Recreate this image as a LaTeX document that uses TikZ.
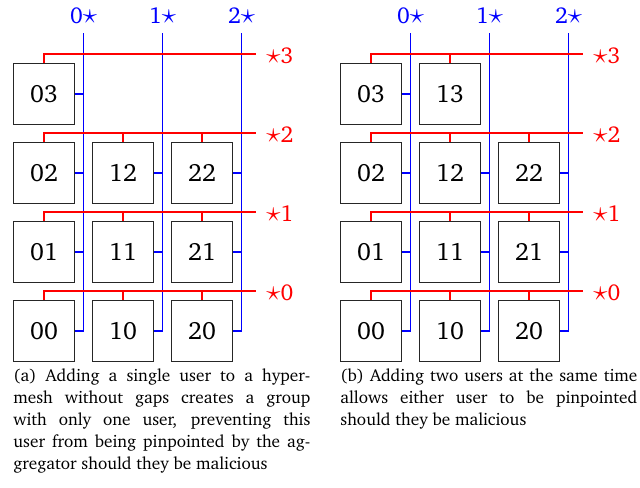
\documentclass[tikz,border=0pt]{standalone}
\usepackage[T1]{fontenc}
\usepackage{charter}
\usetikzlibrary{positioning}

\newcommand{\meshstar}{{\fontsize{14.5pt}{15pt}\selectfont$\star$}}

\begin{document}
\begin{tikzpicture}[
    x=0.5pt, y=-0.5pt,
    font=\fontsize{12.5pt}{14pt}\selectfont,
    user/.style={
        rectangle,
        draw=black!85,
        line width=0.55pt,
        minimum width=30.5pt,
        minimum height=30.5pt,
        inner sep=0pt
    },
    colLine/.style={
        color=blue,
        line width=0.6pt
    },
    rowLine/.style={
        color=red,
        line width=0.55pt
    },
    colLabel/.style={
        text=blue,
        inner sep=0pt,
        font=\fontsize{11.5pt}{13pt}\selectfont
    },
    rowLabel/.style={
        text=red,
        inner sep=0pt,
        anchor=west,
        font=\fontsize{11.5pt}{13pt}\selectfont
    },
    caption/.style={
        text width=148.5pt,
        align=justify,
        inner sep=0pt,
        anchor=north west,
        font=\fontsize{8.6pt}{11pt}\selectfont
    }
]
\useasboundingbox (0,0) rectangle (640,487);

% ==================== (a) SINGLE USER ====================
\node[user] (a03) at (44, 94) {03};
\node[user] (a02) at (44, 173) {02};
\node[user] (a12) at (123, 173) {12};
\node[user] (a22) at (202, 173) {22};
\node[user] (a01) at (44, 252) {01};
\node[user] (a11) at (123, 252) {11};
\node[user] (a21) at (202, 252) {21};
\node[user] (a00) at (44, 331) {00};
\node[user] (a10) at (123, 331) {10};
\node[user] (a20) at (202, 331) {20};

% column groups
\coordinate (a0top) at (83.5, 33);
\coordinate (a1top) at (162.5, 33);
\coordinate (a2top) at (241.5, 33);
\draw[colLine] (a0top) |- (a00.east);
\draw[colLine] (a1top) |- (a10.east);
\draw[colLine] (a2top) |- (a20.east);
\draw[colLine] (a01.east) -- (a01.east -| a0top);
\draw[colLine] (a02.east) -- (a02.east -| a0top);
\draw[colLine] (a03.east) -- (a03.east -| a0top);
\draw[colLine] (a11.east) -- (a11.east -| a1top);
\draw[colLine] (a12.east) -- (a12.east -| a1top);
\draw[colLine] (a21.east) -- (a21.east -| a2top);
\draw[colLine] (a22.east) -- (a22.east -| a2top);
\node[colLabel] (a0lab) at (83.5, 16) {0\meshstar};
\node[colLabel] (a1lab) at (162.5, 16) {1\meshstar};
\node[colLabel] (a2lab) at (241.5, 16) {2\meshstar};

% row groups
\coordinate (a3end) at (256, 54);
\coordinate (a2end) at (256, 133);
\coordinate (a1end) at (256, 212);
\coordinate (a0end) at (256, 291);
\draw[rowLine] (a03.north) |- (a3end);
\draw[rowLine] (a02.north) |- (a2end);
\draw[rowLine] (a01.north) |- (a1end);
\draw[rowLine] (a00.north) |- (a0end);
\draw[rowLine] (a12.north) -- (a12.north |- a2end);
\draw[rowLine] (a22.north) -- (a22.north |- a2end);
\draw[rowLine] (a11.north) -- (a11.north |- a1end);
\draw[rowLine] (a21.north) -- (a21.north |- a1end);
\draw[rowLine] (a10.north) -- (a10.north |- a0end);
\draw[rowLine] (a20.north) -- (a20.north |- a0end);
\node[rowLabel] (a3lab) at (266, 56) {\meshstar3};
\node[rowLabel] (a2lab) at (266, 135) {\meshstar2};
\node[rowLabel] (a1lab) at (266, 214) {\meshstar1};
\node[rowLabel] (a0lab) at (266, 293) {\meshstar0};

\node[caption] (capA) at (13, 368) {(a) Adding a single user to a hyper-\linebreak mesh without gaps creates a group\linebreak with only one user, preventing this\linebreak user from being pinpointed by the ag-\linebreak gregator should they be malicious};

% ==================== (b) TWO USERS ====================
\node[user] (b03) at (371, 94) {03};
\node[user] (b13) at (450, 94) {13};
\node[user] (b02) at (371, 173) {02};
\node[user] (b12) at (450, 173) {12};
\node[user] (b22) at (529, 173) {22};
\node[user] (b01) at (371, 252) {01};
\node[user] (b11) at (450, 252) {11};
\node[user] (b21) at (529, 252) {21};
\node[user] (b00) at (371, 331) {00};
\node[user] (b10) at (450, 331) {10};
\node[user] (b20) at (529, 331) {20};

% column groups
\coordinate (b0top) at (410.5, 33);
\coordinate (b1top) at (489.5, 33);
\coordinate (b2top) at (568.5, 33);
\draw[colLine] (b0top) |- (b00.east);
\draw[colLine] (b1top) |- (b10.east);
\draw[colLine] (b2top) |- (b20.east);
\draw[colLine] (b01.east) -- (b01.east -| b0top);
\draw[colLine] (b02.east) -- (b02.east -| b0top);
\draw[colLine] (b03.east) -- (b03.east -| b0top);
\draw[colLine] (b11.east) -- (b11.east -| b1top);
\draw[colLine] (b12.east) -- (b12.east -| b1top);
\draw[colLine] (b21.east) -- (b21.east -| b2top);
\draw[colLine] (b22.east) -- (b22.east -| b2top);
\node[colLabel] (b0lab) at (410.5, 16) {0\meshstar};
\node[colLabel] (b1lab) at (489.5, 16) {1\meshstar};
\node[colLabel] (b2lab) at (568.5, 16) {2\meshstar};

% row groups
\coordinate (b3end) at (583, 54);
\coordinate (b2end) at (583, 133);
\coordinate (b1end) at (583, 212);
\coordinate (b0end) at (583, 291);
\draw[rowLine] (b03.north) |- (b3end);
\draw[rowLine] (b02.north) |- (b2end);
\draw[rowLine] (b01.north) |- (b1end);
\draw[rowLine] (b00.north) |- (b0end);
\draw[rowLine] (b13.north) -- (b13.north |- b3end);
\draw[rowLine] (b12.north) -- (b12.north |- b2end);
\draw[rowLine] (b22.north) -- (b22.north |- b2end);
\draw[rowLine] (b11.north) -- (b11.north |- b1end);
\draw[rowLine] (b21.north) -- (b21.north |- b1end);
\draw[rowLine] (b10.north) -- (b10.north |- b0end);
\draw[rowLine] (b20.north) -- (b20.north |- b0end);
\node[rowLabel] (b3lab) at (593, 56) {\meshstar3};
\node[rowLabel] (b2lab) at (593, 135) {\meshstar2};
\node[rowLabel] (b1lab) at (593, 214) {\meshstar1};
\node[rowLabel] (b0lab) at (593, 293) {\meshstar0};

\node[caption] (capB) at (340, 368) {(b) Adding two users at the same time\linebreak allows either user to be pinpointed\linebreak should they be malicious};

\end{tikzpicture}
\end{document}
